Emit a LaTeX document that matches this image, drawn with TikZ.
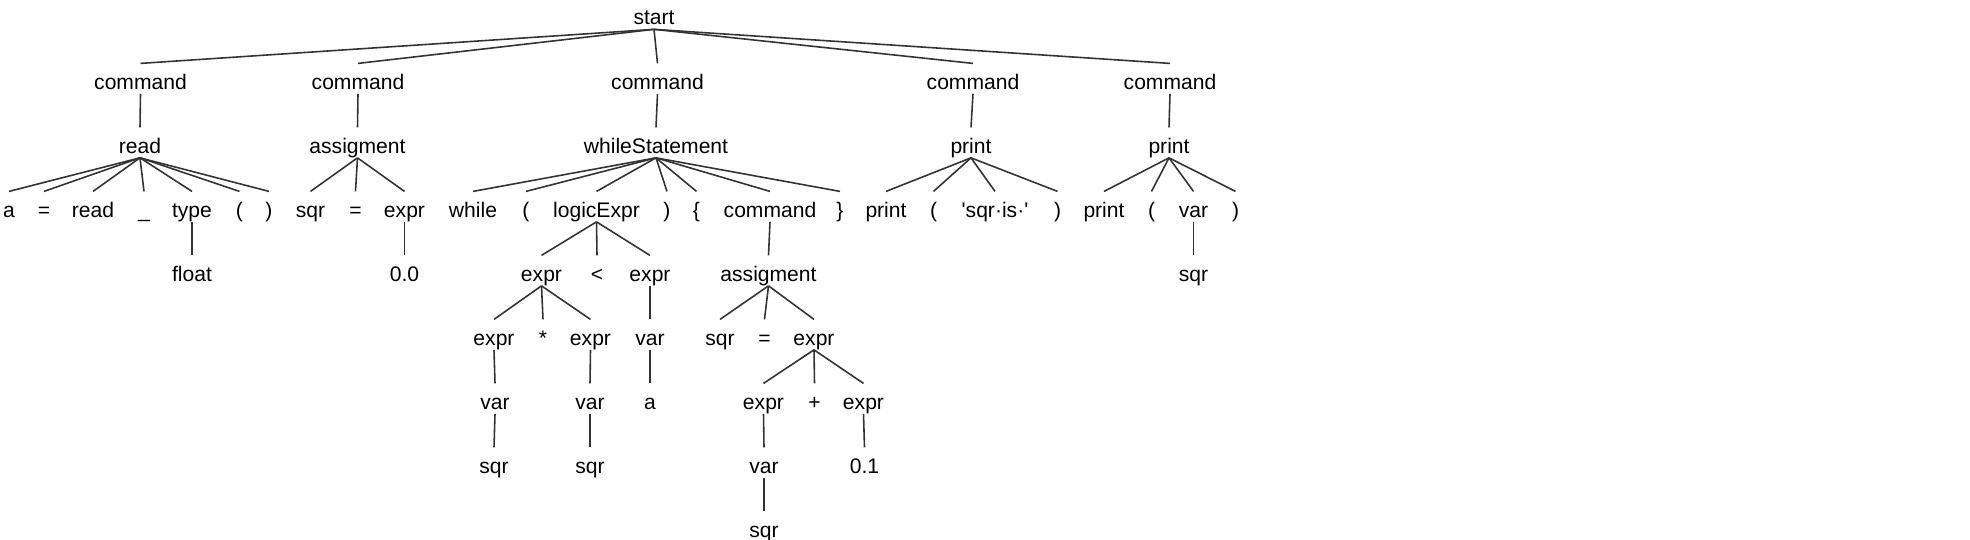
\documentclass[tikz,border=0pt]{standalone}
\usepackage{fontspec}
\setmainfont{Liberation Sans}[Ligatures=TeXOff]
\usepackage{tikz}

\begin{document}
\begin{tikzpicture}[
    tok/.style={inner sep=0pt, anchor=base, text height=0.515cm, text depth=0.08cm, font=\fontsize{12}{14}\selectfont},
    br/.style={draw=black!80, line width=0.9pt}
  ]
    \useasboundingbox (0,0) rectangle (39.4,-10.8);

    \node[tok] (start) at (13.08,-0.50) {start};
    \node[tok] (c1) at (2.81,-1.79) {command};
    \node[tok] (c2) at (7.16,-1.79) {command};
    \node[tok] (c3) at (13.15,-1.79) {command};
    \node[tok] (c4) at (19.46,-1.79) {command};
    \node[tok] (c5) at (23.40,-1.79) {command};
    \node[tok] (read) at (2.80,-3.07) {read};
    \node[tok] (asg1) at (7.15,-3.07) {assigment};
    \node[tok] (ws) at (13.12,-3.07) {whileStatement};
    \node[tok] (pr1) at (19.42,-3.07) {print};
    \node[tok] (pr2) at (23.38,-3.07) {print};

    \node[tok] (a) at (0.18,-4.35) {a};
    \node[tok] (eq1) at (0.88,-4.35) {=};
    \node[tok] (rd) at (1.86,-4.35) {read};
    \node[tok] (us) at (2.88,-4.35) {\_};
    \node[tok] (type) at (3.84,-4.35) {type};
    \node[tok] (lp1) at (4.79,-4.35) {(};
    \node[tok] (rp1) at (5.38,-4.35) {)};
    \node[tok] (sqr1) at (6.21,-4.35) {sqr};
    \node[tok] (eq2) at (7.11,-4.35) {=};
    \node[tok] (ex1) at (8.09,-4.35) {expr};
    \node[tok] (while) at (9.46,-4.35) {while};
    \node[tok] (lp2) at (10.52,-4.35) {(};
    \node[tok] (logic) at (11.93,-4.35) {logicExpr};
    \node[tok] (rp2) at (13.34,-4.35) {)};
    \node[tok] (lb) at (13.93,-4.35) {\{};
    \node[tok] (cmd) at (15.40,-4.35) {command};
    \node[tok] (rb) at (16.80,-4.35) {\}};
    \node[tok] (prk1) at (17.72,-4.35) {print};
    \node[tok] (lp3) at (18.67,-4.35) {(};
    \node[tok] (str) at (19.90,-4.35) {'sqr·is·'};
    \node[tok] (rp3) at (21.15,-4.35) {)};
    \node[tok] (prk2) at (22.08,-4.35) {print};
    \node[tok] (lp4) at (23.03,-4.35) {(};
    \node[tok] (var5) at (23.87,-4.35) {var};
    \node[tok] (rp4) at (24.71,-4.35) {)};

    \node[tok] (float) at (3.84,-5.63) {float};
    \node[tok] (zero) at (8.09,-5.63) {0.0};
    \node[tok] (ex2) at (10.83,-5.63) {expr};
    \node[tok] (lt) at (11.94,-5.63) {<};
    \node[tok] (ex3) at (13.00,-5.63) {expr};
    \node[tok] (asg2) at (15.37,-5.63) {assigment};
    \node[tok] (sqr6) at (23.87,-5.63) {sqr};

    \node[tok] (ex4) at (9.88,-6.91) {expr};
    \node[tok] (star) at (10.86,-6.91) {*};
    \node[tok] (ex5) at (11.81,-6.91) {expr};
    \node[tok] (var3) at (13.00,-6.91) {var};
    \node[tok] (sqr4) at (14.40,-6.91) {sqr};
    \node[tok] (eq3) at (15.29,-6.91) {=};
    \node[tok] (ex6) at (16.28,-6.91) {expr};

    \node[tok] (var1) at (9.90,-8.19) {var};
    \node[tok] (var2) at (11.80,-8.19) {var};
    \node[tok] (a2) at (13.00,-8.19) {a};
    \node[tok] (ex7) at (15.27,-8.19) {expr};
    \node[tok] (plus) at (16.29,-8.19) {+};
    \node[tok] (ex8) at (17.27,-8.19) {expr};

    \node[tok] (sqr2) at (9.88,-9.47) {sqr};
    \node[tok] (sqr3) at (11.80,-9.47) {sqr};
    \node[tok] (var4) at (15.28,-9.47) {var};
    \node[tok] (tenth) at (17.29,-9.47) {0.1};
    \node[tok] (sqr5) at (15.28,-10.75) {sqr};

    \draw[br] (start.south) -- (c1.north);
    \draw[br] (start.south) -- (c2.north);
    \draw[br] (start.south) -- (c3.north);
    \draw[br] (start.south) -- (c4.north);
    \draw[br] (start.south) -- (c5.north);
    \draw[br] (c1.south) -- (read.north);
    \draw[br] (c2.south) -- (asg1.north);
    \draw[br] (c3.south) -- (ws.north);
    \draw[br] (c4.south) -- (pr1.north);
    \draw[br] (c5.south) -- (pr2.north);

    \draw[br] (read.south) -- (a.north);
    \draw[br] (read.south) -- (eq1.north);
    \draw[br] (read.south) -- (rd.north);
    \draw[br] (read.south) -- (us.north);
    \draw[br] (read.south) -- (type.north);
    \draw[br] (read.south) -- (lp1.north);
    \draw[br] (read.south) -- (rp1.north);
    \draw[br] (type.south) -- (float.north);

    \draw[br] (asg1.south) -- (sqr1.north);
    \draw[br] (asg1.south) -- (eq2.north);
    \draw[br] (asg1.south) -- (ex1.north);
    \draw[br] (ex1.south) -- (zero.north);

    \draw[br] (ws.south) -- (while.north);
    \draw[br] (ws.south) -- (lp2.north);
    \draw[br] (ws.south) -- (logic.north);
    \draw[br] (ws.south) -- (rp2.north);
    \draw[br] (ws.south) -- (lb.north);
    \draw[br] (ws.south) -- (cmd.north);
    \draw[br] (ws.south) -- (rb.north);

    \draw[br] (logic.south) -- (ex2.north);
    \draw[br] (logic.south) -- (lt.north);
    \draw[br] (logic.south) -- (ex3.north);
    \draw[br] (ex2.south) -- (ex4.north);
    \draw[br] (ex2.south) -- (star.north);
    \draw[br] (ex2.south) -- (ex5.north);
    \draw[br] (ex4.south) -- (var1.north);
    \draw[br] (var1.south) -- (sqr2.north);
    \draw[br] (ex5.south) -- (var2.north);
    \draw[br] (var2.south) -- (sqr3.north);
    \draw[br] (ex3.south) -- (var3.north);
    \draw[br] (var3.south) -- (a2.north);

    \draw[br] (cmd.south) -- (asg2.north);
    \draw[br] (asg2.south) -- (sqr4.north);
    \draw[br] (asg2.south) -- (eq3.north);
    \draw[br] (asg2.south) -- (ex6.north);
    \draw[br] (ex6.south) -- (ex7.north);
    \draw[br] (ex6.south) -- (plus.north);
    \draw[br] (ex6.south) -- (ex8.north);
    \draw[br] (ex7.south) -- (var4.north);
    \draw[br] (var4.south) -- (sqr5.north);
    \draw[br] (ex8.south) -- (tenth.north);

    \draw[br] (pr1.south) -- (prk1.north);
    \draw[br] (pr1.south) -- (lp3.north);
    \draw[br] (pr1.south) -- (str.north);
    \draw[br] (pr1.south) -- (rp3.north);
    \draw[br] (pr2.south) -- (prk2.north);
    \draw[br] (pr2.south) -- (lp4.north);
    \draw[br] (pr2.south) -- (var5.north);
    \draw[br] (pr2.south) -- (rp4.north);
    \draw[br] (var5.south) -- (sqr6.north);
\end{tikzpicture}
\end{document}
